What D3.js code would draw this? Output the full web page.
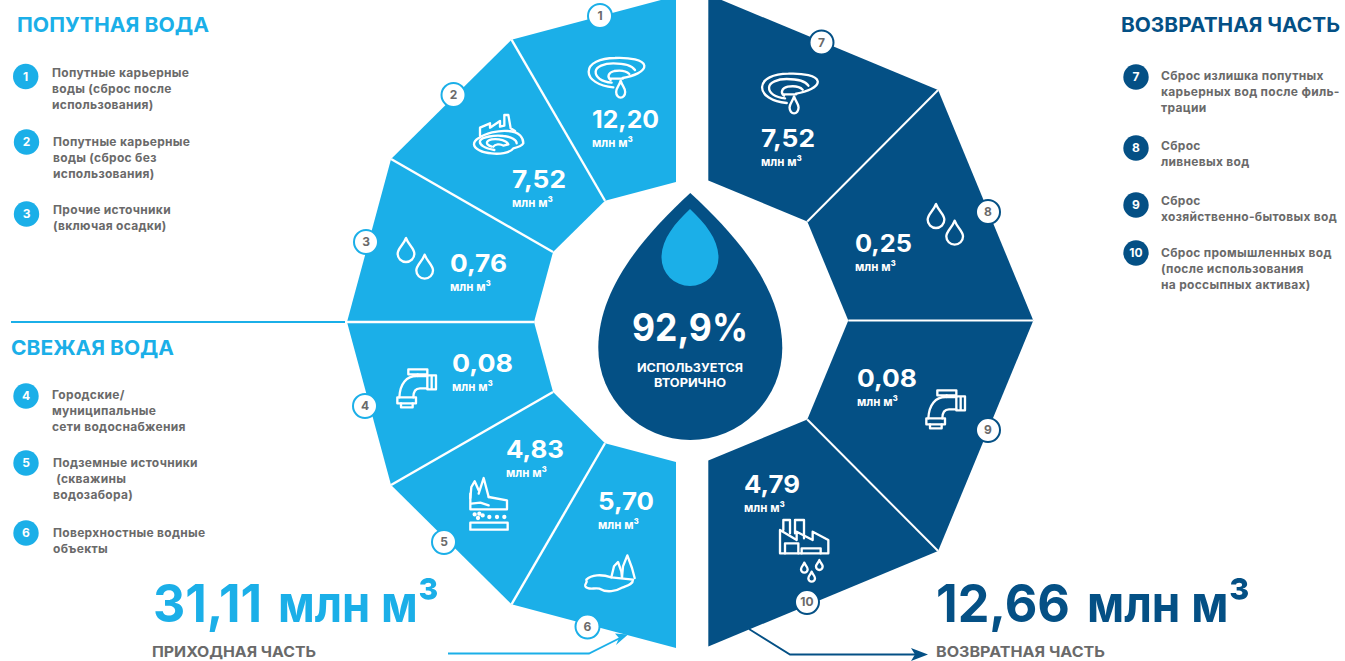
<!DOCTYPE html>
<html>
<head>
<meta charset="utf-8">
<script src="https://cdn.jsdelivr.net/npm/d3@7"></script>
<style>
  html, body { margin: 0; padding: 0; background: #fff; overflow: hidden; }
  text { font-family: "Inter", "Noto Sans", sans-serif; font-weight: 700; }
</style>
</head>
<body>
<div id="chart"></div>
<script>
// data
var inflowIds = [1, 2, 3, 4, 5, 6];
var inflowValues = [12.20, 7.52, 0.76, 0.08, 4.83, 5.70];
var outflowIds = [7, 8, 9, 10];
var outflowValues = [7.52, 0.25, 0.08, 4.79];
var unitLabel = "млн м³";

var legendFormation = [
  ["Попутные карьерные", "воды (сброс после", "использования)"],
  ["Попутные карьерные", "воды (сброс без", "использования)"],
  ["Прочие источники", "(включая осадки)"]
];
var legendFresh = [
  ["Городские/", "муниципальные", "сети водоснабжения"],
  ["Подземные источники", " (скважины", "водозабора)"],
  ["Поверхностные водные", "объекты"]
];
var legendReturn = [
  ["Сброс излишка попутных", "карьерных вод после филь-", "трации"],
  ["Сброс", "ливневых вод"],
  ["Сброс", "хозяйственно-бытовых вод"],
  ["Сброс промышленных вод", "(после использования", "на россыпных активах)"]
];

var lightBlue = "#1bafe8";
var darkBlue = "#045085";
var gray = "#6a6a6a";

var svg = d3.select("#chart").append("svg")
  .attr("width", 1345)
  .attr("height", 661);

// text helper, width is the width measured on the picture
function label(parent, str, x, y, size, width, fill, anchor) {
  var t = parent.append("text")
    .attr("x", x)
    .attr("y", y)
    .attr("font-size", size)
    .attr("fill", fill)
    .attr("text-anchor", anchor || "start")
    .attr("xml:space", "preserve")
    .text(str);
  if (width) t.attr("textLength", width).attr("lengthAdjust", "spacingAndGlyphs");
  return t;
}

function fmt(v) { return d3.format(".2f")(v).replace(".", ","); }

// wheel halves: each one is a ring cut in equal sectors
var leftRing = {cx: 676, cy: 322, outerX: 329, outerY: 326, innerX: 142, innerY: 140, dir: -1,
  angle: d3.scaleLinear().domain([0, inflowValues.length]).range([0, Math.PI])};
var rightRing = {cx: 708.3, cy: 320.5, outerX: 325, outerY: 326, innerX: 140, innerY: 140, dir: 1,
  angle: d3.scaleLinear().domain([0, outflowValues.length]).range([0, Math.PI])};

function outerPoint(ring, i) {
  var a = ring.angle(i);
  return [ring.cx + ring.dir * ring.outerX * Math.sin(a), ring.cy - ring.outerY * Math.cos(a)];
}
function innerPoint(ring, i) {
  var a = ring.angle(i);
  return [ring.cx + ring.dir * ring.innerX * Math.sin(a), ring.cy - ring.innerY * Math.cos(a)];
}

function drawRing(ring, values, color, sepWidth) {
  var g = svg.append("g");
  g.selectAll(".sector")
    .data(values)
    .enter()
    .append("path")
    .attr("class", "sector")
    .attr("fill", color)
    .attr("d", function(d, i) {
      return "M" + [outerPoint(ring, i), outerPoint(ring, i + 1), innerPoint(ring, i + 1), innerPoint(ring, i)].join("L") + "Z";
    });
  // white separators
  g.selectAll(".sep")
    .data(d3.range(1, values.length))
    .enter()
    .append("line")
    .attr("class", "sep")
    .attr("x1", function(i) { return innerPoint(ring, i)[0]; })
    .attr("y1", function(i) { return innerPoint(ring, i)[1]; })
    .attr("x2", function(i) { return outerPoint(ring, i)[0]; })
    .attr("y2", function(i) { return outerPoint(ring, i)[1]; })
    .attr("stroke", "#fff")
    .attr("stroke-width", sepWidth);
}

drawRing(leftRing, inflowValues, lightBlue, 2.4);
drawRing(rightRing, outflowValues, darkBlue, 2);

// guide line between the two left groups
svg.append("line")
  .attr("x1", 11).attr("x2", 345)
  .attr("y1", 322).attr("y2", 322)
  .attr("stroke", lightBlue).attr("stroke-width", 2);

// arrows at the bottom
svg.append("path")
  .attr("d", "M448 653.5H589L622 637")
  .attr("fill", "none").attr("stroke", lightBlue).attr("stroke-width", 1.8);
svg.append("path")
  .attr("d", "M628 634.5L615 633.5L619 638L616 645Z")
  .attr("fill", lightBlue);
svg.append("path")
  .attr("d", "M749 629L790 654.5H915")
  .attr("fill", "none").attr("stroke", darkBlue).attr("stroke-width", 1.8);
svg.append("path")
  .attr("d", "M928 654.5L911 648L915 654.5L911 661Z")
  .attr("fill", darkBlue);

// central drop
function dropPath(cx, top, cy, r) {
  return "M" + cx + " " + top +
    "C" + (cx - r * 0.55) + " " + (top + (cy - top) * 0.3) + " " + (cx - r) + " " + (cy - r * 0.62) + " " + (cx - r) + " " + cy +
    "A" + r + " " + r + " 0 0 0 " + (cx + r) + " " + cy +
    "C" + (cx + r) + " " + (cy - r * 0.62) + " " + (cx + r * 0.55) + " " + (top + (cy - top) * 0.3) + " " + cx + " " + top + "Z";
}
svg.append("path").attr("d", dropPath(690.3, 193, 348, 92)).attr("fill", darkBlue);
svg.append("path").attr("d", dropPath(690, 209, 257.5, 28.5)).attr("fill", lightBlue);
label(svg, "92,9%", 690, 341, 38, 116, "#fff", "middle").attr("font-weight", 900);
label(svg, "ИСПОЛЬЗУЕТСЯ", 690, 372, 12, 106, "#fff", "middle");
label(svg, "ВТОРИЧНО", 690, 387, 12, 72, "#fff", "middle");

// icons are drawn at 3x in their own box, then scaled down
function icon(x, y, draw) {
  var g = svg.append("g")
    .attr("transform", "translate(" + x + "," + y + ") scale(" + (1 / 3) + ")")
    .attr("fill", "none")
    .attr("stroke", "#fff")
    .attr("stroke-width", 7)
    .attr("stroke-linejoin", "round")
    .attr("stroke-linecap", "round");
  draw(g);
}
function smallDrop(g, x, y, w, h) {
  g.append("path").attr("d",
    "M" + x + " " + y +
    "C" + (x - w * 0.15) + " " + (y + h * 0.3) + " " + (x - w / 2) + " " + (y + h * 0.42) + " " + (x - w / 2) + " " + (y + h * 0.66) +
    "A" + (w / 2) + " " + (h * 0.34) + " 0 0 0 " + (x + w / 2) + " " + (y + h * 0.66) +
    "C" + (x + w / 2) + " " + (y + h * 0.42) + " " + (x + w * 0.15) + " " + (y + h * 0.3) + " " + x + " " + y + "Z");
}
function quarryDrop(g) {
  g.append("path").attr("d", "M128 84C160 78 195 65 193 47C190 30 150 22 105 24C60 24 26 40 26 65C26 88 55 108 100 112");
  g.append("path").attr("d", "M95 98C65 95 46 82 47 65C48 50 72 40 100 40C130 40 155 45 165 60");
  g.append("path").attr("d", "M92 90C80 80 85 68 103 63C122 60 140 64 148 72");
  g.append("path").attr("d", "M92 86H128");
  smallDrop(g, 122, 92, 27, 51);
}
function quarryFactory(g) {
  g.append("path").attr("d", "M45 92V68L75 55V68L105 48V65L118 62V30H130L137 70L150 78");
  g.append("path").attr("d", "M40 100C60 85 100 75 130 78C165 80 175 100 175 115C170 125 155 128 145 130C135 145 100 148 80 145C50 145 28 130 27 118C27 110 32 105 40 100Z");
  g.append("path").attr("d", "M88 135C60 130 42 120 45 108C50 95 90 90 115 93C140 95 155 105 155 115");
  g.append("path").attr("d", "M80 125C60 118 62 108 80 103C105 100 125 108 130 118L115 122C105 115 90 118 85 125");
}
function drops(g) {
  smallDrop(g, 27, 3, 50, 72);
  smallDrop(g, 83, 53, 50, 72);
}
function tap(g) {
  g.append("path").attr("d", "M55 28H112V43H55Z");
  g.append("path").attr("d", "M83 43V48");
  g.append("path").attr("d", "M112 46H138V88H112ZM125 46V88");
  g.append("path").attr("d", "M112 48H80C50 48 30 70 28 112");
  g.append("path").attr("d", "M112 85H90C72 85 70 100 70 112");
  g.append("path").attr("d", "M22 112H78V130H22Z");
  g.append("path").attr("d", "M33 130V142H68V130");
}
function ground(g) {
  g.append("path").attr("d", "M25 78L28 45L38 28L50 55");
  g.append("path").attr("d", "M50 65L65 18L80 75");
  g.append("path").attr("d", "M25 65V112H135V85L80 75");
  g.append("path").attr("d", "M28 95L55 92L80 100");
  g.selectAll("circle").data([[38, 127], [52, 125], [62, 130], [48, 138], [82, 135], [105, 135], [127, 135]]).enter()
    .append("circle").attr("cx", function(d) { return d[0]; }).attr("cy", function(d) { return d[1]; })
    .attr("r", 3).attr("fill", "#fff");
  g.append("path").attr("d", "M25 152H137V173H25Z");
}
function pond(g) {
  g.append("path").attr("d", "M25 95C40 80 70 78 100 88L165 95C165 108 150 112 135 118C115 130 85 135 65 122C50 118 30 128 22 115C18 108 30 105 25 95Z");
  g.append("path").attr("d", "M100 88L108 55L120 42L130 70L132 88");
  g.append("path").attr("d", "M132 88L135 55L148 22L162 60L170 90");
}
function factory(g) {
  g.append("path").attr("d", "M250 630V600H270V640M285 640V600H312V655");
  g.append("path").attr("d", "M240 700V630L290 660V635L338 660V635L385 660V700Z");
  g.append("path").attr("d", "M255 700V670H295V700M305 700V685H362V700");
  smallDrop(g, 313, 728, 20, 30);
  smallDrop(g, 358, 720, 20, 30);
  smallDrop(g, 335, 755, 20, 30);
}

icon(580, 50, quarryDrop);
icon(465, 105, quarryFactory);
icon(397, 237, drops);
icon(390, 360, tap);
icon(462, 472, ground);
icon(578, 548, pond);
icon(753.4, 65.7, quarryDrop);
icon(927, 203, drops);
icon(919, 381, tap);
icon(700, 320, factory);

// value labels, anchor and text width per sector
var inflowLabelPos = [[592, 128, 67], [512, 188, 54], [450, 272, 57], [452, 372, 61], [506, 458, 58], [598, 510, 56]];
var outflowLabelPos = [[761, 147, 54], [855, 252, 57], [857, 387, 60], [744, 493, 56]];

function valueLabels(values, pos) {
  values.forEach(function(v, i) {
    var p = pos[i];
    label(svg, fmt(v), p[0], p[1], 24, p[2], "#fff").attr("font-weight", 800);
    label(svg, unitLabel, p[0], p[1] + 19, 12.5, 41, "#fff");
  });
}
valueLabels(inflowValues, inflowLabelPos);
valueLabels(outflowValues, outflowLabelPos);

// number badges on the wheel
var inflowBadgePos = [[600, 16], [453.5, 95], [366, 242], [365, 406], [444, 542], [587.5, 626.5]];
var outflowBadgePos = [[821.5, 42.5], [988, 212], [988, 430], [807, 602]];

function badges(ids, pos, color) {
  ids.forEach(function(id, i) {
    svg.append("circle")
      .attr("cx", pos[i][0]).attr("cy", pos[i][1]).attr("r", 12)
      .attr("fill", "#fff").attr("stroke", color).attr("stroke-width", 2);
    label(svg, id, pos[i][0], pos[i][1] + 4.3, 12, 0, gray, "middle").attr("font-weight", 800);
  });
}
badges(inflowIds, inflowBadgePos, lightBlue);
badges(outflowIds, outflowBadgePos, darkBlue);

// side legends
function legend(ids, lines, xs, badgeX, badgeY, firstBase, color) {
  ids.forEach(function(id, i) {
    svg.append("circle").attr("cx", badgeX[i]).attr("cy", badgeY[i]).attr("r", 12.7).attr("fill", color);
    label(svg, id, badgeX[i], badgeY[i] + 4.3, 12, 0, "#fff", "middle").attr("font-weight", 800);
    lines[i].forEach(function(line, j) {
      label(svg, line, xs[i], firstBase[i] + j * 16, 12, 0, gray).attr("letter-spacing", 0.3);
    });
  });
}
legend(inflowIds.slice(0, 3), legendFormation, [52, 53, 53], [25.7, 26.5, 26.5], [76.5, 142, 214], [77, 146, 214], lightBlue);
legend(inflowIds.slice(3), legendFresh, [52, 53, 53], [26, 26, 26], [396, 463, 533], [399, 467, 537], lightBlue);
legend(outflowIds, legendReturn, [1161, 1161, 1161, 1161], [1136, 1136, 1136, 1136], [77, 148, 205, 253], [80, 150, 205, 257], darkBlue);

// titles
label(svg, "ПОПУТНАЯ ВОДА", 17, 32, 20, 192, lightBlue).attr("font-weight", 800);
label(svg, "СВЕЖАЯ ВОДА", 11, 355, 20, 163, lightBlue).attr("font-weight", 800);
label(svg, "ВОЗВРАТНАЯ ЧАСТЬ", 1121, 32, 20, 219, darkBlue).attr("font-weight", 800);

// totals, the number and the unit are placed apart
function total(num, x, numWidth, unitX, unitWidth, color) {
  label(svg, num, x, 622, 52, numWidth, color).attr("font-weight", 900);
  label(svg, unitLabel, unitX, 622, 52, unitWidth, color).attr("font-weight", 900);
}
total("31,11", 153, 109, 278, 161, lightBlue);
total("12,66", 936, 134, 1087, 163, darkBlue);
label(svg, "ПРИХОДНАЯ ЧАСТЬ", 152, 657, 14.5, 164, gray);
label(svg, "ВОЗВРАТНАЯ ЧАСТЬ", 936, 657, 14.5, 169, gray);
</script>
</body>
</html>
